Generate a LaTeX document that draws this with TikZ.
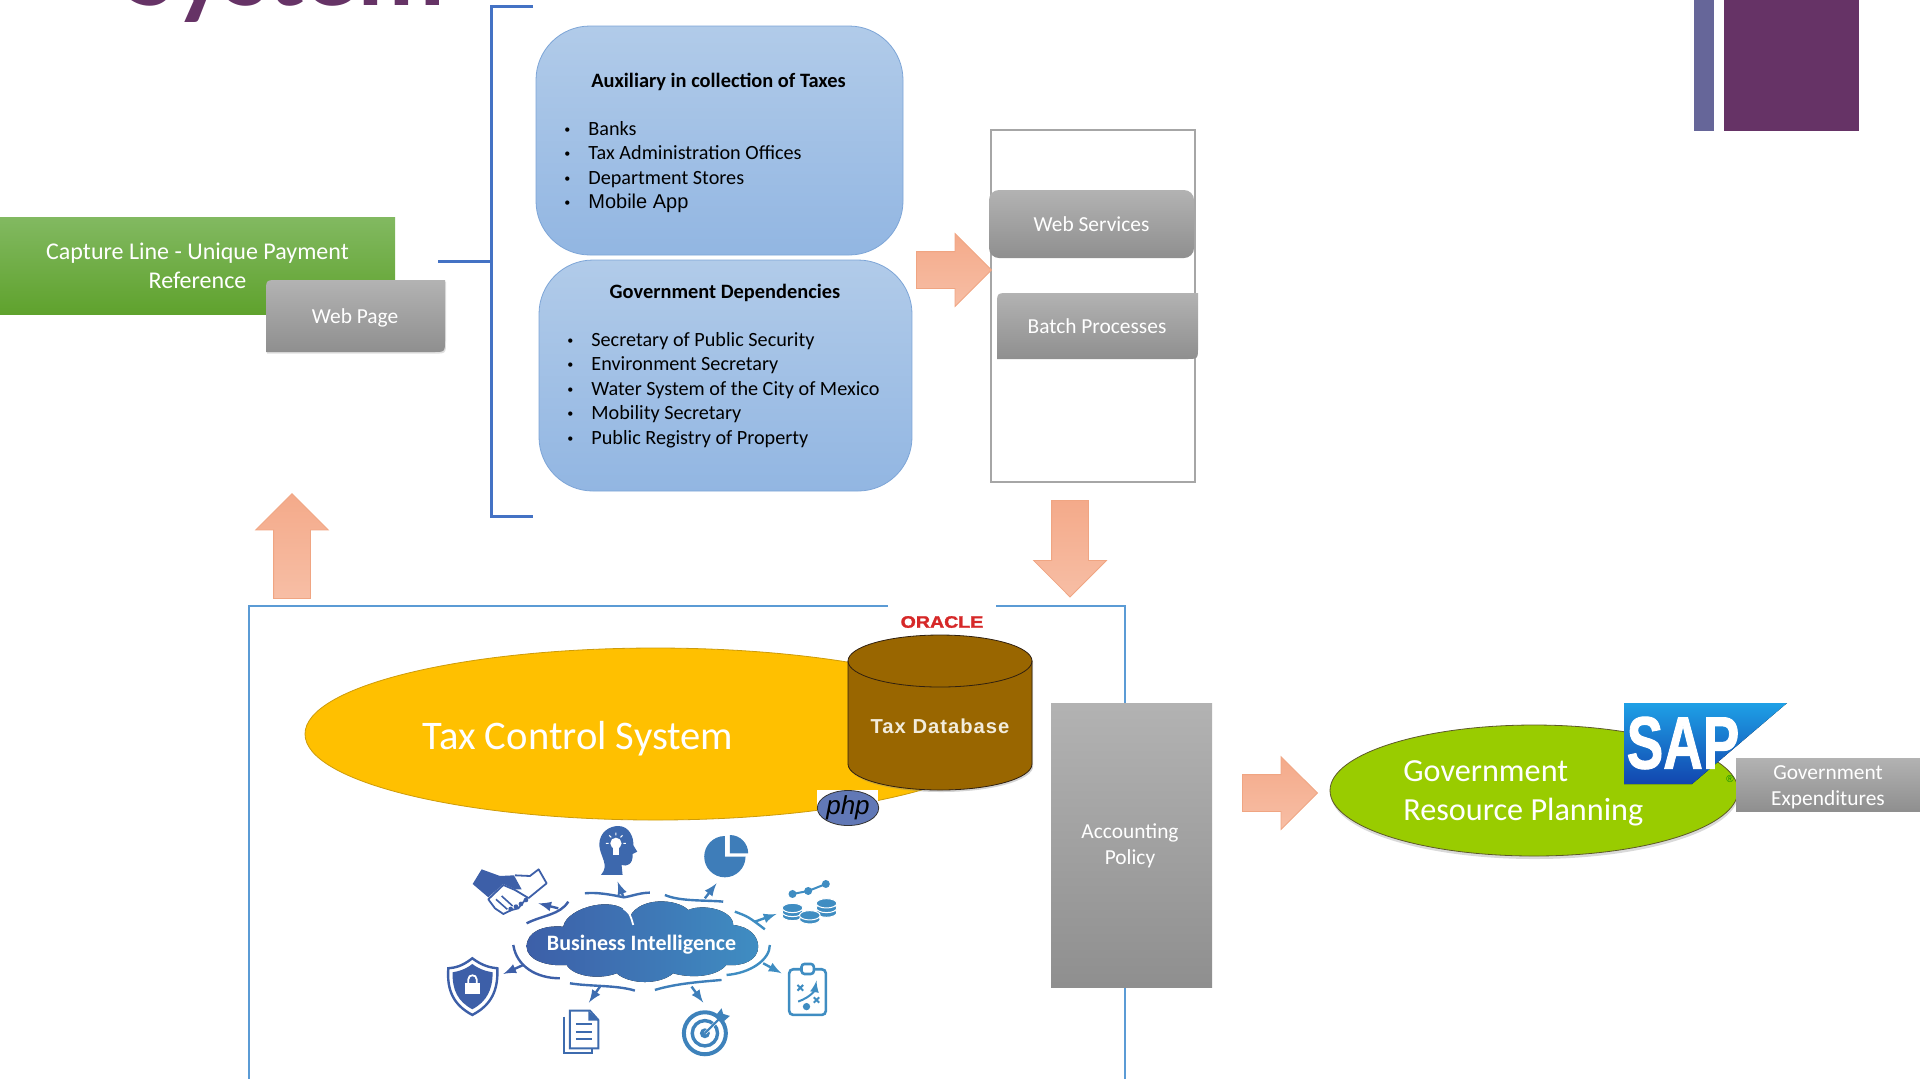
\documentclass[tikz,border=0pt]{standalone}
\usepackage{fontspec}
\setmainfont{Carlito}
\newfontfamily\arialfont[BoldFeatures={FakeBold=1.5}]{Liberation Sans}
\newfontfamily\dbfont[LetterSpace=5]{Liberation Sans}
\usetikzlibrary{shapes.geometric,shapes.arrows,shadows}

\definecolor{planpurple}{HTML}{663366}
\definecolor{planslate}{HTML}{666699}
\definecolor{bracketblue}{HTML}{4472C4}
\definecolor{framesky}{HTML}{5B9BD5}
\definecolor{biblue}{HTML}{3D5FA8}
\definecolor{bisky}{HTML}{3F8DC2}

\tikzset{
	graytext/.style={text=white, inner sep=0pt, align=center, font=\fontsize{10.7}{13}\selectfont},
	graybox/.style={graytext, top color=black!30, bottom color=black!44, draw=none},
	bluebox/.style={top color={rgb,255:red,177;green,203;blue,233}, bottom color={rgb,255:red,146;green,182;blue,226}, draw={rgb,255:red,125;green,165;blue,215}, rounded corners=27pt, inner sep=0pt},
	blockarrow/.style={single arrow, single arrow head extend=9pt, minimum width=36pt, inner sep=0pt, text height=18pt, text depth=0pt, top color={rgb,255:red,244;green,170;blue,138}, bottom color={rgb,255:red,247;green,190;blue,165}, draw={rgb,255:red,240;green,165;blue,130}, line width=.4pt},
	listtext/.style={anchor=west, align=left, inner sep=0pt, font=\fontsize{10.1}{12.2}\selectfont},
	headtext/.style={inner sep=0pt, font=\bfseries\fontsize{10.2}{12}\selectfont},
	biarc/.style={line width=1.2pt},
}
\newcommand{\listrow}[1]{\makebox[12pt][l]{\raisebox{.1em}{\scalebox{.6}{\textbullet}}}#1}

\begin{document}
\begin{tikzpicture}[x=.5pt, y=-.5pt]
	\useasboundingbox (0,0) rectangle (1920,1078);
	\clip (0,0) rectangle (1920,1078);

	\node[anchor=base west, inner sep=0pt, text=planpurple, font=\bfseries\fontsize{54}{54}\selectfont] (title) at (125,5) {System};
	\fill[planslate] (1694,0) rectangle (1714,131);
	\fill[planpurple] (1724,0) rectangle (1859,131);

	\node[top color={rgb,255:red,130;green,185;blue,97}, bottom color={rgb,255:red,95;green,162;blue,45}, minimum width=197.5pt, minimum height=48.5pt, inner sep=0pt, text=white, align=center, font=\fontsize{12}{14.5}\selectfont] (capture) at (197.5,265.5) {Capture Line - Unique Payment\\Reference};

	\path[graybox, drop shadow={opacity=.25, shadow xshift=.5pt, shadow yshift=-.8pt}] (278,280) -- (445,280) -- (445,340) .. controls (445,352) .. (433,352) -- (266,352) -- (266,292) .. controls (266,280) .. (278,280) -- cycle;
	\node[graytext] (webpage) at (355,318) {Web Page};

	\coordinate (braceTop) at (533,6);
	\coordinate (braceBottom) at (533,516);
	\coordinate (braceStub) at (438,261);
	\draw[bracketblue, line width=1.5pt] (braceTop) -- (491,6) -- (491,516) -- (braceBottom);
	\draw[bracketblue, line width=1.5pt] (braceStub) -- (491,261);

	\node[bluebox, minimum width=183.5pt, minimum height=114.5pt] (auxiliary) at (719.5,140.5) {};
	\node[bluebox, minimum width=186.5pt, minimum height=115.5pt] (dependencies) at (725.5,375.5) {};

	\node[headtext] (auxiliaryHead) at (718.5,82) {Auxiliary in collection of Taxes};
	\node[listtext] (auxiliaryList) at (564,167) {\listrow{Banks}\\\listrow{Tax Administration Offices}\\\listrow{Department Stores}\\\listrow{\arialfont\fontsize{10}{12}\selectfont Mobile App}};
	\node[headtext] (dependenciesHead) at (725,293) {Government Dependencies};
	\node[listtext] (dependenciesList) at (567,390) {\listrow{Secretary of Public Security}\\\listrow{Environment Secretary}\\\listrow{Water System of the City of Mexico}\\\listrow{Mobility Secretary}\\\listrow{Public Registry of Property}};

	\node[draw=black!35, line width=1pt, fill=white, minimum width=101.75pt, minimum height=176pt, inner sep=0pt] (serviceframe) at (1092.75,306) {};
	\node[graybox, rounded corners=5pt, minimum width=102.5pt, minimum height=34pt] (webservices) at (1091.5,224) {Web Services};
	\path[graybox] (1009,293) -- (1198,293) -- (1198,347) .. controls (1198,359) .. (1186,359) -- (997,359) -- (997,305) .. controls (997,293) .. (1009,293) -- cycle;
	\node[graytext] (batch) at (1097,326) {Batch Processes};

	\node[blockarrow, minimum height=37.5pt, anchor=tip] (arrowservices) at (992,270) {};
	\node[blockarrow, minimum height=48.25pt, anchor=tip, rotate=-90] (arrowdown) at (1070,597.5) {};
	\node[blockarrow, minimum height=52.5pt, anchor=tip, rotate=90] (arrowup) at (292,493) {};
	\node[blockarrow, minimum height=37.5pt, anchor=tip] (arrowerp) at (1318,793) {};

	\draw[framesky, line width=1pt] (249,1100) -- (249,606) -- (1125,606) -- (1125,1100);

	\node[ellipse, fill={rgb,255:red,255;green,192;blue,0}, draw={rgb,255:red,205;green,155;blue,10}, minimum width=350.5pt, minimum height=86pt, inner sep=0pt] (taxsystem) at (655.5,734) {};
	\node[text=white, inner sep=0pt, font=\fontsize{20.3}{24}\selectfont] (taxlabel) at (578,739) {Tax Control System};

	\fill[white] (888,596) rectangle (996,634);
	\node[text={rgb,255:red,214;green,40;blue,40}, inner sep=0pt, font=\arialfont\bfseries\fontsize{8.3}{10}\selectfont] (oracle) at (942,622) {\scalebox{1.18}[1]{ORACLE}};

	% tax database drum
	\draw[fill={rgb,255:red,153;green,102;blue,0}, draw=black!75!brown, drop shadow={opacity=.35, shadow xshift=.6pt, shadow yshift=-1pt}] (848,661) -- (848,764) arc (180:0:92 and 26) -- (1032,661) arc (0:-180:92 and 26) -- cycle;
	\draw[draw=black!75!brown] (848,661) arc (180:0:92 and 26);
	\node[text={rgb,255:red,242;green,236;blue,220}, inner sep=0pt, font=\dbfont\bfseries\fontsize{10.1}{11}\selectfont] (taxdblabel) at (940,726) {Tax Database};

	\fill[white] (817,790) rectangle (878,826);
	\node[ellipse, fill={rgb,255:red,97;green,120;blue,182}, draw=black!80, minimum width=30pt, minimum height=17.5pt, inner sep=0pt, font=\arialfont\itshape\fontsize{13}{14}\selectfont] (php) at (848,808) {php};

	\node[graybox, minimum width=80.5pt, minimum height=142pt] (accounting) at (1131.5,845) {};
	\node[graytext] (accountinglabel) at (1130,846) {Accounting\\Policy};

	\node[ellipse, fill={rgb,255:red,153;green,204;blue,0}, draw=black!45!olive, minimum width=204pt, minimum height=65.5pt, inner sep=0pt, drop shadow={opacity=.3, shadow xshift=.3pt, shadow yshift=-1.5pt}] (erp) at (1534,790.5) {};
	\node[anchor=west, text=white, align=left, inner sep=0pt, font=\fontsize{16.1}{19.5}\selectfont] (erplabel) at (1403,793.5) {Government\\Resource Planning};

	\fill[top color={rgb,255:red,30;green,160;blue,230}, bottom color={rgb,255:red,18;green,70;blue,175}] (1624,703) -- (1787,703) -- (1692,784) -- (1624,784) -- cycle;
	\node[text=white, inner sep=0pt, font=\arialfont\bfseries\fontsize{37}{37}\selectfont] (sap) at (1683,743) {\scalebox{.74}[1]{SAP}};
	\node[text=black!45!green, inner sep=0pt, font=\arialfont\fontsize{5}{5}\selectfont] (sapmark) at (1730,779) {®};

	\node[graybox, minimum width=92pt, minimum height=26.5pt] (expenditures) at (1828,784.5) {};
	\node[graytext] (expenditureslabel) at (1828,787) {Government\\Expenditures};

	% business intelligence picture
	\begin{scope}[shift={(420,810)}, x=.1666pt, y=-.1666pt]
		\fill[left color=biblue, right color=bisky] (320,410) .. controls (320,365) and (370,345) .. (430,350)
			.. controls (440,290) and (600,250) .. (630,320)
			.. controls (660,260) and (770,265) .. (805,300)
			.. controls (850,280) and (940,300) .. (940,345)
			.. controls (990,350) and (1015,380) .. (1015,410)
			.. controls (1015,450) and (970,470) .. (920,465)
			.. controls (880,510) and (790,500) .. (760,490)
			.. controls (720,525) and (630,525) .. (590,490)
			.. controls (540,510) and (460,500) .. (440,465)
			.. controls (380,470) and (320,450) .. (320,410) -- cycle;
		\draw[white, line width=.9pt] (610,295) .. controls (630,310) .. (640,345);
		\node[text=white, inner sep=0pt, font=\bfseries\fontsize{11}{13}\selectfont] (bilabel) at (665,405) {Business Intelligence};

		\draw[biarc, biblue] (320,340) .. controls (370,315) and (420,315) .. (445,275);
		\draw[biarc, biblue, -latex] (415,295) -- (355,280);
		\draw[biarc, biblue!70!bisky] (495,250) .. controls (540,245) and (600,260) .. (612,262) .. controls (630,260) and (660,248) .. (690,248);
		\draw[biarc, biblue!70!bisky, -latex] (610,260) -- (593,215);
		\draw[biarc, biblue!40!bisky] (735,255) .. controls (780,275) and (860,270) .. (910,275);
		\draw[biarc, biblue!40!bisky, -latex] (855,265) -- (890,220);
		\draw[biarc, bisky] (945,305) .. controls (985,320) .. (1035,358);
		\draw[biarc, bisky, -latex] (1005,335) -- (1070,312);
		\draw[biarc, bisky] (1050,405) .. controls (1050,450) and (990,490) .. (920,495);
		\draw[biarc, bisky, -latex] (1030,460) -- (1085,490);
		\draw[biarc, biblue!30!bisky] (705,540) .. controls (770,520) and (850,515) .. (905,510);
		\draw[biarc, biblue!30!bisky, -latex] (815,530) -- (850,578);
		\draw[biarc, biblue!70!bisky] (450,520) .. controls (510,530) and (590,525) .. (645,542);
		\draw[biarc, biblue!70!bisky, -latex] (540,530) -- (507,578);
		\draw[biarc, biblue] (280,405) .. controls (290,470) and (350,505) .. (420,505);
		\draw[biarc, biblue, -latex] (310,465) -- (250,492);

		% head with bulb
		\fill[biblue!80!bisky] (543,195) .. controls (570,165) and (540,140) .. (538,105) .. controls (538,65) and (570,48) .. (595,48)
			.. controls (630,48) and (642,85) .. (640,105) -- (652,125) -- (638,132) .. controls (640,165) and (620,170) .. (605,165) -- (608,195) -- cycle;
		\fill[white] (588,100) circle (17);
		\fill[white] (578,112) rectangle (598,136);
		\draw[white, line width=.5pt] (558,100) -- (566,100) (610,100) -- (618,100) (568,76) -- (574,82) (608,76) -- (602,82) (588,68) -- (588,76);

		% pie
		\fill[biblue!35!bisky] (915,140) -- (915,78) arc (270:0:62) -- cycle;
		\fill[biblue!35!bisky] (930,130) -- (985,130) arc (0:-90:55) -- cycle;

		% coins and trend line
		\draw[bisky, line width=1pt] (1118,252) -- (1165,243) -- (1218,222);
		\fill[bisky] (1118,252) circle (12);
		\fill[bisky] (1165,243) circle (12);
		\fill[bisky] (1218,222) circle (12);
		\filldraw[fill=bisky, draw=white, line width=.5pt] (1118,318) ellipse (31 and 14);
		\filldraw[fill=bisky, draw=white, line width=.5pt] (1118,306) ellipse (31 and 14);
		\filldraw[fill=bisky, draw=white, line width=.5pt] (1118,294) ellipse (31 and 14);
		\filldraw[fill=bisky, draw=white, line width=.5pt] (1220,308) ellipse (31 and 14);
		\filldraw[fill=bisky, draw=white, line width=.5pt] (1220,294) ellipse (31 and 14);
		\filldraw[fill=bisky, draw=white, line width=.5pt] (1220,280) ellipse (31 and 14);
		\filldraw[fill=bisky, draw=white, line width=.5pt] (1170,328) ellipse (31 and 14);
		\filldraw[fill=bisky, draw=white, line width=.5pt] (1170,316) ellipse (31 and 14);

		% clipboard
		\draw[bisky, line width=1.3pt, rounded corners=2pt] (1108,478) rectangle (1218,615);
		\draw[bisky, fill=white, line width=1.3pt, rounded corners=1.5pt] (1145,462) rectangle (1182,492);
		\fill[bisky] (1160,590) circle (11);
		\draw[bisky, line width=1pt] (1133,525) -- (1150,542) (1150,525) -- (1133,542) (1182,562) -- (1198,578) (1198,562) -- (1182,578);
		\draw[bisky, line width=1pt, -latex] (1135,575) .. controls (1175,560) and (1185,540) .. (1190,512);

		% target
		\draw[biblue!25!bisky, line width=2pt] (855,670) circle (63);
		\draw[biblue!25!bisky, line width=1.7pt] (855,670) circle (38);
		\fill[biblue!25!bisky] (855,670) circle (15);
		\draw[white, line width=1.5pt] (855,670) -- (900,625);
		\draw[biblue!25!bisky, line width=1pt] (855,670) -- (900,625);
		\fill[biblue!25!bisky] (885,620) -- (905,595) -- (910,612) -- (930,618) -- (905,640) -- cycle;

		% documents
		\draw[biblue!75!bisky, line width=1pt] (432,620) -- (432,730) -- (515,730) -- (515,715);
		\draw[biblue!75!bisky, fill=white, line width=1pt] (450,602) -- (510,602) -- (535,630) -- (535,715) -- (450,715) -- cycle;
		\fill[biblue!75!bisky] (505,602) -- (535,632) -- (505,632) -- cycle;
		\draw[biblue!75!bisky, line width=1pt] (468,643) -- (516,643) (468,665) -- (516,665) (468,688) -- (516,688);

		% shield
		\draw[biblue, line width=1.2pt, fill=white] (157,445) .. controls (190,470) and (215,473) .. (232,475) .. controls (235,540) and (215,585) .. (157,615) .. controls (100,585) and (80,540) .. (85,475) .. controls (105,473) and (125,470) .. (157,445) -- cycle;
		\fill[biblue] (157,462) .. controls (180,480) and (205,485) .. (218,487) .. controls (218,540) and (200,575) .. (157,598) -- (157,598) .. controls (114,575) and (96,540) .. (98,487) .. controls (110,485) and (135,480) .. (157,462) -- cycle;
		\fill[white] (135,518) rectangle (181,552);
		\draw[white, line width=.9pt] (145,520) -- (145,508) .. controls (145,492) and (170,492) .. (170,508) -- (170,520);

		% handshake
		\fill[biblue] (158,222) -- (185,178) -- (240,198) -- (282,196) -- (305,238) -- (285,238) -- (250,222) -- (205,262) -- cycle;
		\draw[biblue, line width=.9pt, fill=white, line join=round] (205,268) -- (250,225) -- (285,240) -- (322,262) -- (295,295) -- (275,300) -- (250,312) -- (225,295) -- cycle;
		\draw[biblue, line width=.9pt, line join=round] (285,196) -- (330,198) -- (356,178) -- (380,220) -- (325,265);
		\draw[biblue, line width=.8pt] (228,268) -- (262,298) (245,258) -- (278,288);
		\fill[biblue] (272,297) circle (7);
		\fill[biblue] (288,290) circle (7);
		\fill[biblue] (303,282) circle (7);
		\fill[biblue] (318,270) circle (7);
	\end{scope}
\end{tikzpicture}
\end{document}
